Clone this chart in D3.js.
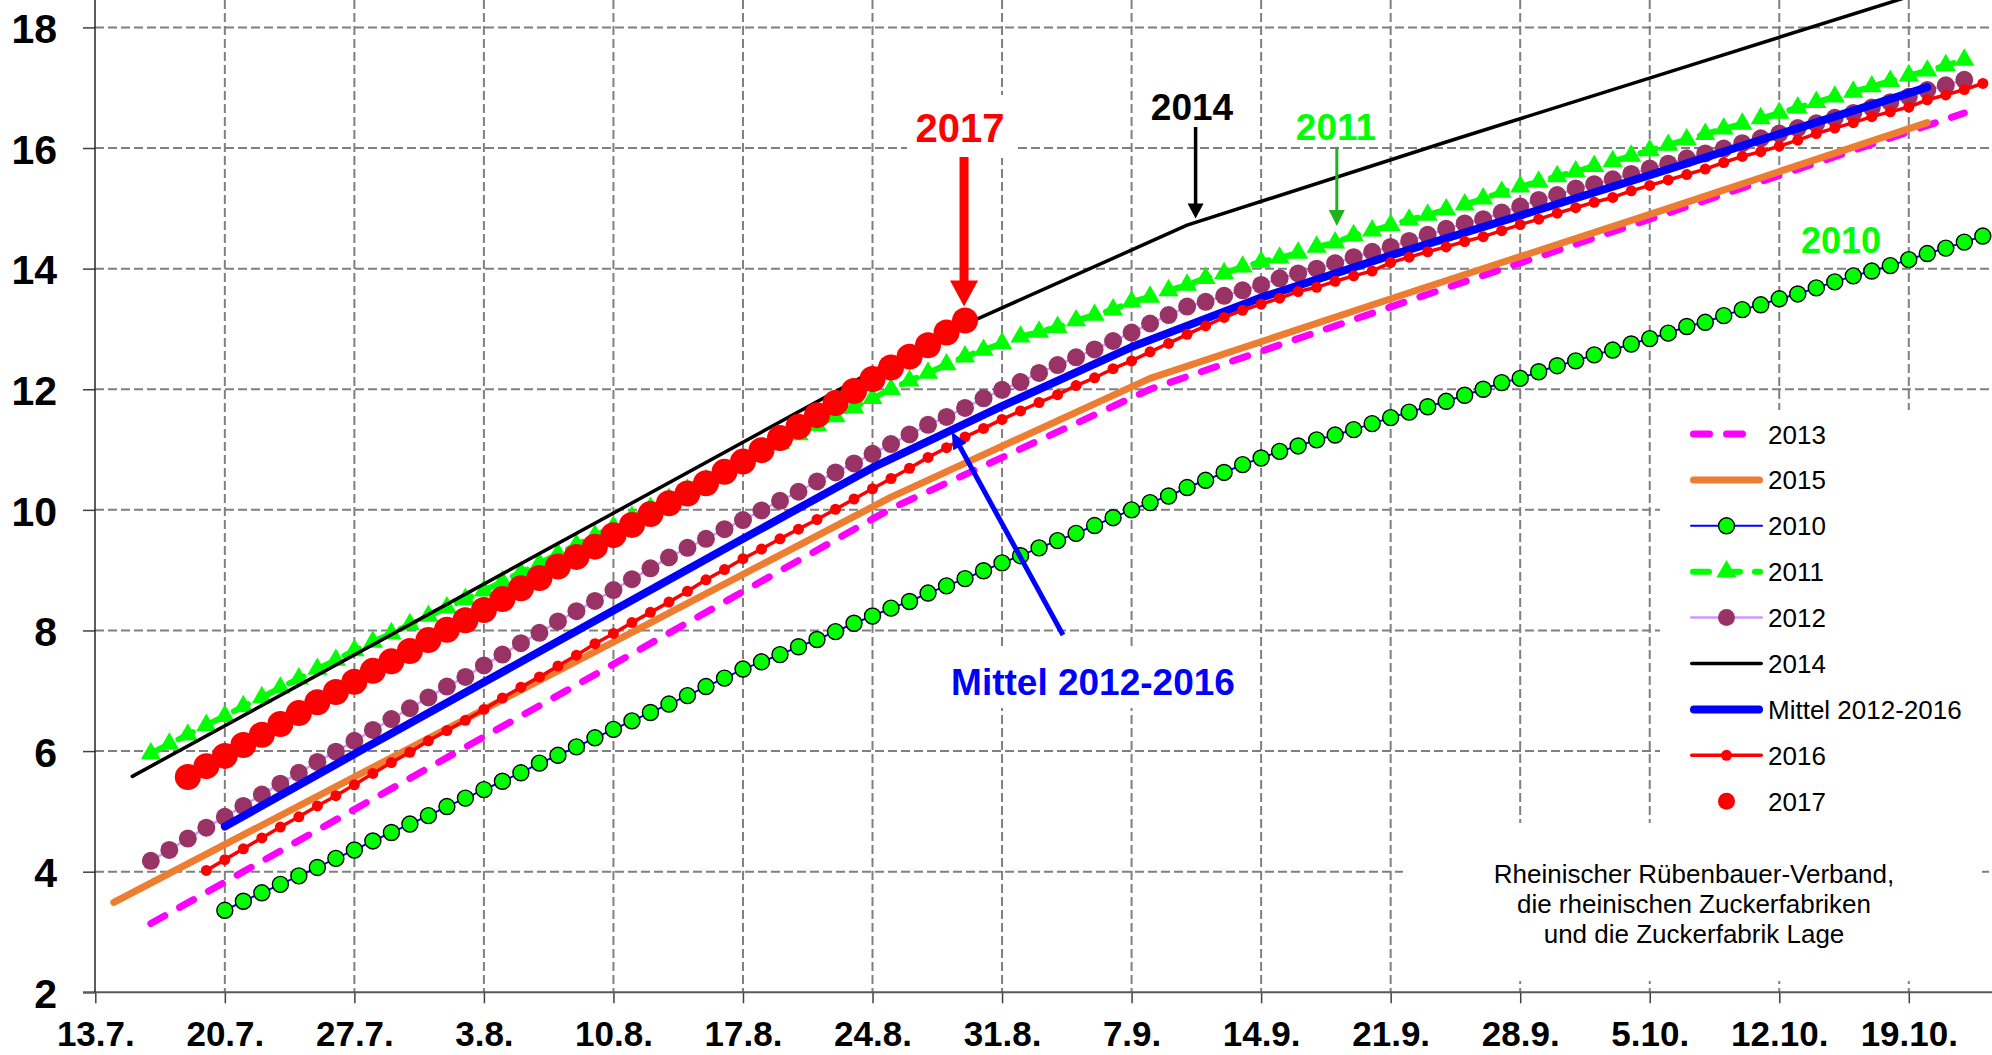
<!DOCTYPE html>
<html lang="de">
<head>
<meta charset="UTF-8">
<title>Zuckergehalt 2010-2017</title>
<style>
  body { margin: 0; background: #fff; }
  svg { display: block; }
  text { font-family: "Liberation Sans", Arial, Helvetica, sans-serif; }
</style>
<script src="https://cdn.jsdelivr.net/npm/d3@7/dist/d3.min.js"></script>
</head>
<body>
<script>
// ---------- Daten ----------
var yTicks = [2, 4, 6, 8, 10, 12, 14, 16, 18];
var xTickLabels = ["13.7.", "20.7.", "27.7.", "3.8.", "10.8.", "17.8.", "24.8.", "31.8.",
                   "7.9.", "14.9.", "21.9.", "28.9.", "5.10.", "12.10.", "19.10."];

// Linien ohne Marker (Stützpunkte)
var dates2013 = ["16.7.", "25.8.", "8.9.", "24.9.", "22.10."];
var values2013 = [3.14, 10.02, 12.00, 13.68, 16.58];

var dates2015 = ["14.7.", "28.7.", "11.8.", "25.8.", "8.9.", "22.9.", "6.10.", "20.10."];
var values2015 = [3.49, 5.73, 7.97, 10.21, 12.18, 13.60, 15.00, 16.42];

var dates2014 = ["15.7.", "27.8.", "10.9.", "24.9.", "8.10.", "22.10."];
var values2014 = [5.58, 12.80, 14.72, 16.10, 17.45, 18.80];

var datesMittel = ["20.7.", "27.7.", "3.8.", "10.8.", "17.8.", "24.8.", "31.8.", "7.9.",
                   "14.9.", "21.9.", "28.9.", "5.10.", "12.10.", "19.10.", "20.10."];
var valuesMittel = [4.75, 5.95, 7.14, 8.33, 9.52, 10.70, 11.72, 12.70,
                    13.52, 14.22, 14.88, 15.55, 16.23, 16.91, 17.01];

// Tageswerte: ein Wert pro Tag ab Startdatum
var start2010 = "20.7.";
var values2010 = [3.36, 3.51, 3.65, 3.79, 3.93, 4.07, 4.22, 4.36, 4.51, 4.65,
  4.79, 4.93, 5.08, 5.22, 5.36, 5.50, 5.64, 5.80, 5.93, 6.07,
  6.22, 6.36, 6.50, 6.64, 6.78, 6.92, 7.07, 7.21, 7.36, 7.48,
  7.60, 7.73, 7.85, 7.98, 8.12, 8.24, 8.37, 8.48, 8.62, 8.74,
  8.86, 8.99, 9.12, 9.24, 9.37, 9.49, 9.61, 9.74, 9.87, 10.00,
  10.12, 10.23, 10.37, 10.49, 10.62, 10.75, 10.86, 10.97, 11.06, 11.16,
  11.24, 11.33, 11.43, 11.53, 11.62, 11.71, 11.80, 11.90, 12.00, 12.11,
  12.18, 12.29, 12.39, 12.47, 12.57, 12.65, 12.75, 12.84, 12.93, 13.04,
  13.11, 13.22, 13.32, 13.40, 13.50, 13.58, 13.68, 13.78, 13.88, 13.96,
  14.05, 14.15, 14.25, 14.34, 14.44, 14.54];

var start2011 = "16.7.";
var values2011 = [5.96, 6.12, 6.27, 6.43, 6.58, 6.74, 6.89, 7.05, 7.20, 7.36,
  7.51, 7.67, 7.81, 7.95, 8.10, 8.24, 8.38, 8.52, 8.66, 8.81,
  8.96, 9.11, 9.27, 9.42, 9.57, 9.72, 9.88, 10.03, 10.18, 10.33,
  10.49, 10.64, 10.79, 10.95, 11.10, 11.25, 11.40, 11.55, 11.70, 11.85,
  12.00, 12.14, 12.27, 12.41, 12.54, 12.65, 12.76, 12.87, 12.95, 13.03,
  13.14, 13.23, 13.32, 13.45, 13.53, 13.64, 13.73, 13.84, 13.92, 14.03,
  14.11, 14.18, 14.26, 14.36, 14.43, 14.55, 14.63, 14.72, 14.81, 14.89,
  14.98, 15.06, 15.16, 15.27, 15.36, 15.44, 15.53, 15.61, 15.70, 15.78,
  15.87, 15.96, 16.05, 16.14, 16.23, 16.32, 16.40, 16.49, 16.58, 16.67,
  16.76, 16.85, 16.93, 17.02, 17.11, 17.20, 17.28, 17.37, 17.46];

var start2012 = "16.7.";
var values2012 = [4.18, 4.36, 4.55, 4.73, 4.91, 5.09, 5.28, 5.46, 5.64, 5.82,
  5.99, 6.17, 6.35, 6.53, 6.71, 6.89, 7.07, 7.23, 7.42, 7.60,
  7.79, 7.96, 8.15, 8.32, 8.49, 8.67, 8.85, 9.03, 9.21, 9.37,
  9.52, 9.68, 9.83, 9.99, 10.15, 10.30, 10.47, 10.62, 10.77, 10.93,
  11.09, 11.25, 11.41, 11.54, 11.69, 11.85, 11.99, 12.12, 12.27, 12.40,
  12.53, 12.66, 12.80, 12.94, 13.09, 13.23, 13.37, 13.45, 13.55, 13.64,
  13.73, 13.84, 13.92, 14.00, 14.09, 14.19, 14.28, 14.36, 14.46, 14.56,
  14.66, 14.75, 14.82, 14.93, 15.03, 15.14, 15.22, 15.33, 15.40, 15.48,
  15.57, 15.66, 15.74, 15.83, 15.91, 15.99, 16.08, 16.16, 16.24, 16.33,
  16.41, 16.50, 16.58, 16.67, 16.76, 16.85, 16.96, 17.04, 17.13];

var start2016 = "19.7.";
var values2016 = [4.02, 4.20, 4.38, 4.56, 4.74, 4.91, 5.09, 5.26, 5.44, 5.63,
  5.81, 5.98, 6.17, 6.34, 6.51, 6.69, 6.88, 7.06, 7.23, 7.41,
  7.59, 7.78, 7.95, 8.13, 8.30, 8.47, 8.65, 8.84, 9.01, 9.19,
  9.35, 9.52, 9.68, 9.84, 10.01, 10.18, 10.35, 10.52, 10.69, 10.87,
  11.03, 11.21, 11.35, 11.50, 11.64, 11.78, 11.91, 12.06, 12.19, 12.34,
  12.47, 12.62, 12.76, 12.91, 13.05, 13.19, 13.31, 13.41, 13.51, 13.62,
  13.69, 13.79, 13.88, 13.96, 14.10, 14.19, 14.28, 14.36, 14.45, 14.53,
  14.63, 14.73, 14.82, 14.92, 15.01, 15.10, 15.18, 15.29, 15.38, 15.47,
  15.56, 15.65, 15.76, 15.86, 15.94, 16.03, 16.13, 16.24, 16.33, 16.42,
  16.52, 16.60, 16.68, 16.80, 16.88, 16.97, 17.07];

var start2017 = "18.7.";
var values2017 = [5.57, 5.75, 5.92, 6.10, 6.27, 6.45, 6.63, 6.81, 6.98, 7.15,
  7.33, 7.49, 7.66, 7.84, 8.01, 8.17, 8.34, 8.52, 8.70, 8.87,
  9.06, 9.22, 9.39, 9.58, 9.75, 9.93, 10.11, 10.27, 10.44, 10.63,
  10.80, 10.99, 11.19, 11.38, 11.57, 11.77, 11.97, 12.17, 12.36, 12.54,
  12.73, 12.94, 13.14];

var legendLabels = ["2013", "2015", "2010", "2011", "2012", "2014", "Mittel 2012-2016", "2016", "2017"];
var sourceLines = ["Rheinischer Rübenbauer-Verband,", "die rheinischen Zuckerfabriken", "und die Zuckerfabrik Lage"];

// ---------- Aufbau ----------
var width = 1992, height = 1055;
var svg = d3.select("body").append("svg")
  .attr("width", width)
  .attr("height", height);

var parseDate = d3.timeParse("%d.%m.%Y");
function toDate(s) { return parseDate(s + "2017"); }

var x = d3.scaleTime().domain([toDate("13.7."), toDate("19.10.")]).range([95.3, 1908.8]);
var y = d3.scaleLinear().domain([2, 18]).range([992.3, 27.4]);

var left = 95, right = width, bottom = y(2);

function fixed(dates, values) {
  return dates.map(function(d, i) { return {date: toDate(d), value: values[i]}; });
}
function daily(start, values) {
  var s = toDate(start);
  return values.map(function(v, i) { return {date: d3.timeDay.offset(s, i), value: v}; });
}

// Gitterlinien
var grid = svg.append("g");
grid.selectAll("line.h").data(yTicks.slice(1)).enter().append("line")
  .attr("class", "h")
  .attr("x1", left).attr("x2", right)
  .attr("y1", function(d) { return y(d); })
  .attr("y2", function(d) { return y(d); });
grid.selectAll("line.v").data(xTickLabels.slice(1)).enter().append("line")
  .attr("class", "v")
  .attr("x1", function(d) { return x(toDate(d)); })
  .attr("x2", function(d) { return x(toDate(d)); })
  .attr("y1", 0).attr("y2", bottom);
grid.selectAll("line")
  .attr("stroke", "#808080")
  .attr("stroke-width", 2)
  .attr("stroke-dasharray", "9,4");

// weiße Flächen hinter Legende und Beschriftungen
var boxes = [
  [1660, 410, 332, 413],   // Legende
  [1403, 823, 579, 158],   // Quelle
  [945, 650, 295, 58],     // Mittel 2012-2016
  [907, 95, 108, 63]       // 2017
];
svg.append("g").selectAll("rect").data(boxes).enter().append("rect")
  .attr("x", function(d) { return d[0]; })
  .attr("y", function(d) { return d[1]; })
  .attr("width", function(d) { return d[2]; })
  .attr("height", function(d) { return d[3]; })
  .attr("fill", "#fff");

// Achsen
var xAxis = d3.axisBottom(x)
  .tickValues(xTickLabels.map(toDate))
  .tickFormat(function(d, i) { return xTickLabels[i]; })
  .tickSize(11).tickPadding(18).tickSizeOuter(0);
var gx = svg.append("g").attr("transform", "translate(0," + bottom + ")").call(xAxis);
gx.attr("font-family", null).attr("font-size", null);
gx.select(".domain").remove();
gx.selectAll(".tick line").attr("stroke", "#404040").attr("stroke-width", 1.5);
gx.selectAll(".tick text")
  .attr("fill", "#000")
  .style("font-size", "35px")
  .style("font-weight", "bold");

var yAxis = d3.axisLeft(y).tickValues(yTicks).tickSize(12).tickPadding(26).tickSizeOuter(0);
var gy = svg.append("g").attr("transform", "translate(" + left + ",0)").call(yAxis);
gy.attr("font-family", null).attr("font-size", null);
gy.select(".domain").remove();
gy.selectAll(".tick line").attr("stroke", "#404040").attr("stroke-width", 1.5);
gy.selectAll(".tick text")
  .attr("fill", "#000")
  .attr("dy", "0.37em")
  .style("font-size", "41px")
  .style("font-weight", "bold");

svg.append("line")
  .attr("x1", 83).attr("x2", right).attr("y1", bottom).attr("y2", bottom)
  .attr("stroke", "#595959").attr("stroke-width", 2);
svg.append("line")
  .attr("x1", left).attr("x2", left).attr("y1", 0).attr("y2", bottom)
  .attr("stroke", "#262626").attr("stroke-width", 1.5);

// Datenreihen
var line = d3.line()
  .x(function(d) { return x(d.date); })
  .y(function(d) { return y(d.value); });

var plot = svg.append("g");
function drawLine(data, color, w, dash) {
  var p = plot.append("path").datum(data)
    .attr("d", line)
    .attr("fill", "none")
    .attr("stroke", color)
    .attr("stroke-width", w)
    .attr("stroke-linejoin", "round")
    .attr("stroke-linecap", "round");
  if (dash) p.attr("stroke-dasharray", dash);
}
function drawDots(data, r, fill, stroke) {
  plot.append("g").selectAll("circle").data(data).enter().append("circle")
    .attr("cx", function(d) { return x(d.date); })
    .attr("cy", function(d) { return y(d.value); })
    .attr("r", r)
    .attr("fill", fill)
    .attr("stroke", stroke || "none")
    .attr("stroke-width", stroke ? 1.4 : 0);
}

var tri = d3.symbol().type(d3.symbolTriangle).size(175);

var s2013 = fixed(dates2013, values2013);
var s2015 = fixed(dates2015, values2015);
var s2014 = fixed(dates2014, values2014);
var sMittel = fixed(datesMittel, valuesMittel);
var s2010 = daily(start2010, values2010);
var s2011 = daily(start2011, values2011);
var s2012 = daily(start2012, values2012);
var s2016 = daily(start2016, values2016);
var s2017 = daily(start2017, values2017);

drawLine(s2013, "#FF00FF", 7, "16,17");
drawLine(s2015, "#ED7D31", 7);
drawLine(s2010, "#0000FF", 2);
drawDots(s2010, 8, "#00FF00", "#000");
drawLine(s2011, "#00FF00", 6, "16,15");
plot.append("g").selectAll("path").data(s2011).enter().append("path")
  .attr("d", tri)
  .attr("transform", function(d) { return "translate(" + x(d.date) + "," + y(d.value) + ")"; })
  .attr("fill", "#00FF00");
drawLine(s2012, "#CC99FF", 2.5);
drawDots(s2012, 9, "#993366");
drawLine(s2014, "#000", 3.5);
drawLine(sMittel, "#0000FF", 8);
drawLine(s2016, "#FF0000", 3.5);
drawDots(s2016, 5.5, "#FF0000");
drawDots(s2017, 13, "#FF0000");

// Pfeile und Beschriftungen
function arrow(x1, y1, x2, y2, w, hl, hw, color) {
  var dx = x2 - x1, dy = y2 - y1, len = Math.sqrt(dx * dx + dy * dy);
  var ux = dx / len, uy = dy / len;
  var bx = x2 - ux * hl, by = y2 - uy * hl;
  svg.append("line")
    .attr("x1", x1).attr("y1", y1).attr("x2", bx + ux * 1).attr("y2", by + uy * 1)
    .attr("stroke", color).attr("stroke-width", w);
  svg.append("polygon")
    .attr("points", [[x2, y2], [bx - uy * hw / 2, by + ux * hw / 2], [bx + uy * hw / 2, by - ux * hw / 2]]
      .map(function(p) { return p.join(","); }).join(" "))
    .attr("fill", color);
}
function label(txt, cx, by, size, color) {
  svg.append("text")
    .attr("x", cx).attr("y", by)
    .attr("text-anchor", "middle")
    .attr("fill", color)
    .style("font-size", size + "px")
    .style("font-weight", "bold")
    .text(txt);
}

var last2017 = s2017[s2017.length - 1];
var ax = x(last2017.date), ay = y(last2017.value);
arrow(ax - 1, 157, ax - 1, ay - 14, 9, 26, 28, "#FF0000");
label("2017", 960, 142, 40, "#FF0000");

arrow(1195.6, 127, 1195.6, 218.5, 3.5, 15, 16, "#000");
label("2014", 1192, 120, 37, "#000");

arrow(1336.8, 147, 1336.8, 226, 3, 16, 16, "#1DB31D");
label("2011", 1336, 140, 37, "#00FF00");

label("2010", 1841, 253, 36, "#00FF00");

arrow(1063, 635, 951.7, 431.7, 5, 17, 15, "#0000FF");
label("Mittel 2012-2016", 1093, 695, 37, "#0000FF");

// Quelle
svg.append("g").selectAll("text").data(sourceLines).enter().append("text")
  .attr("x", 1694)
  .attr("y", function(d, i) { return 883 + i * 29.8; })
  .attr("text-anchor", "middle")
  .attr("fill", "#000")
  .style("font-size", "26px")
  .text(function(d) { return d; });

// Legende
var lx0 = 1690, lx1 = 1763, lmid = 1726.5, ltext = 1768, ly0 = 434, lstep = 45.9;
var lg = svg.append("g");
legendLabels.forEach(function(name, i) {
  var ly = ly0 + i * lstep;
  function seg(color, w, dash) {
    var l = lg.append("line")
      .attr("x1", lx0 + w / 2).attr("x2", lx1 - w / 2).attr("y1", ly).attr("y2", ly)
      .attr("stroke", color).attr("stroke-width", w).attr("stroke-linecap", "round");
    if (dash) l.attr("stroke-dasharray", dash);
  }
  function dot(r, fill, stroke) {
    lg.append("circle").attr("cx", lmid).attr("cy", ly).attr("r", r)
      .attr("fill", fill).attr("stroke", stroke || "none").attr("stroke-width", stroke ? 1.4 : 0);
  }
  if (name === "2013") seg("#FF00FF", 7, "16,17");
  if (name === "2015") seg("#ED7D31", 7);
  if (name === "2010") { seg("#0000FF", 2); dot(8, "#00FF00", "#000"); }
  if (name === "2011") {
    seg("#00FF00", 6, "16,15");
    lg.append("path").attr("d", tri).attr("transform", "translate(" + lmid + "," + ly + ")").attr("fill", "#00FF00");
  }
  if (name === "2012") { seg("#CC99FF", 2.5); dot(8.5, "#993366"); }
  if (name === "2014") seg("#000", 3.5);
  if (name === "Mittel 2012-2016") seg("#0000FF", 8);
  if (name === "2016") { seg("#FF0000", 3.5); dot(5.5, "#FF0000"); }
  if (name === "2017") dot(8.5, "#FF0000");
  lg.append("text")
    .attr("x", ltext).attr("y", ly + 9.5)
    .attr("fill", "#000")
    .style("font-size", "26px")
    .text(name);
});
</script>
</body>
</html>
